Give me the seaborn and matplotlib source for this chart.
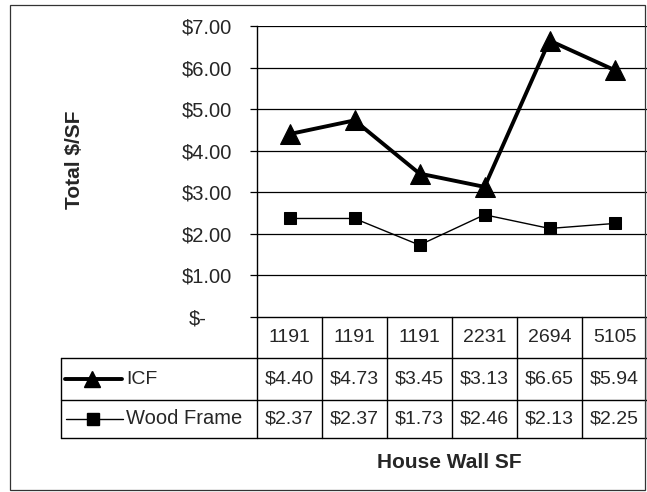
import numpy as np
import pandas as pd
import matplotlib
matplotlib.use("Agg")
import matplotlib.pyplot as plt
import seaborn as sns

# data
wall_sf = ["1191", "1191", "1191", "2231", "2694", "5105"]
icf = [4.40, 4.73, 3.45, 3.13, 6.65, 5.94]
wood_frame = [2.37, 2.37, 1.73, 2.46, 2.13, 2.25]
y_ticks = [0, 1, 2, 3, 4, 5, 6, 7]
y_labels = ["$-", "$1.00", "$2.00", "$3.00", "$4.00", "$5.00", "$6.00", "$7.00"]

sns.set_style("white")
plt.rcParams['font.family'] = ['Liberation Sans', 'DejaVu Sans']

W, H = 647, 492
fig = plt.figure(figsize=(W / 100, H / 100), dpi=100)

# layout in pixels (from top-left)
plot_l, plot_r, plot_t, plot_b = 257, 647, 26, 317
leg_l = 61
row_edges = [317, 358, 400, 438]

ax = fig.add_axes([plot_l / W, (H - plot_b) / H, (plot_r - plot_l) / W, (plot_b - plot_t) / H])
df = pd.DataFrame({"x": np.arange(len(wall_sf)), "ICF": icf, "Wood Frame": wood_frame})

for yv in y_ticks[1:]:
    ax.axhline(yv, color="black", lw=0.9, zorder=1)

sns.lineplot(data=df, x="x", y="ICF", ax=ax, color="black", lw=2.8,
             marker="^", markersize=14, markeredgecolor="black", zorder=3)
sns.lineplot(data=df, x="x", y="Wood Frame", ax=ax, color="black", lw=1.0,
             marker="s", markersize=8.5, markeredgecolor="black", zorder=3)

ax.set_xlim(-0.5, len(wall_sf) - 0.5)
ax.set_ylim(0, 7)
ax.set_xticks([])
ax.set_yticks(y_ticks)
ax.set_yticklabels(y_labels, fontsize=14.5)
ax.tick_params(axis="y", length=5, width=0.9, color="black", pad=13, left=True)
ax.set_xlabel("")
ax.set_ylabel("")
for s in ["top", "right", "bottom"]:
    ax.spines[s].set_visible(False)
ax.spines["left"].set_color("black")
ax.spines["left"].set_linewidth(1.0)
# accounting-style zero label sits further left
for lbl in ax.get_yticklabels():
    if lbl.get_text() == "$-":
        lbl.set_x(-25 / (plot_r - plot_l))

# data table below the plot, in pixel units
tax = fig.add_axes([leg_l / W, (H - row_edges[-1]) / H, (plot_r - leg_l) / W, (row_edges[-1] - row_edges[0]) / H])
tax.set_xlim(leg_l, plot_r)
tax.set_ylim(row_edges[-1], row_edges[0])
tax.axis("off")

col_w = (plot_r - plot_l) / len(wall_sf)
lk = dict(color="black", lw=1.0, clip_on=False)
tax.plot([plot_l, plot_r], [row_edges[0]] * 2, **lk)
for ry in row_edges[1:]:
    tax.plot([leg_l, plot_r], [ry, ry], **lk)
tax.plot([leg_l, leg_l], [row_edges[1], row_edges[3]], **lk)
for i in range(len(wall_sf) + 1):
    cx = plot_l + i * col_w
    tax.plot([cx, cx], [row_edges[0], row_edges[3]], **lk)

rows = [wall_sf, [f"${v:.2f}" for v in icf], [f"${v:.2f}" for v in wood_frame]]
for r, vals in enumerate(rows):
    cy = (row_edges[r] + row_edges[r + 1]) / 2
    for i, v in enumerate(vals):
        tax.text(plot_l + (i + 0.5) * col_w, cy, v, ha="center", va="center", fontsize=14)

# legend keys inside the table
cy = (row_edges[1] + row_edges[2]) / 2
tax.plot([65, 122], [cy, cy], color="black", lw=2.8, clip_on=False)
tax.plot([92], [cy], marker="^", markersize=11, color="black", clip_on=False)
tax.text(126, cy, "ICF", ha="left", va="center", fontsize=14)
cy = (row_edges[2] + row_edges[3]) / 2
tax.plot([66, 123], [cy, cy], color="black", lw=1.0, clip_on=False)
tax.plot([93], [cy], marker="s", markersize=8, color="black", clip_on=False)
tax.text(126, cy, "Wood Frame", ha="left", va="center", fontsize=14.5)

# axis titles
fig.text(74 / W, 1 - 160 / H, "Total $/SF", rotation=90, ha="center", va="center",
         fontsize=15, fontweight="bold")
fig.text(449 / W, 1 - 463 / H, "House Wall SF", ha="center", va="center",
         fontsize=15, fontweight="bold")

# outer chart border
fig.add_artist(plt.Rectangle((10 / W, 1 - 490 / H), (645 - 10) / W, (490 - 5) / H,
                             transform=fig.transFigure, fill=False, ec="#333333", lw=0.9))

fig.savefig("out.png", dpi=100)
